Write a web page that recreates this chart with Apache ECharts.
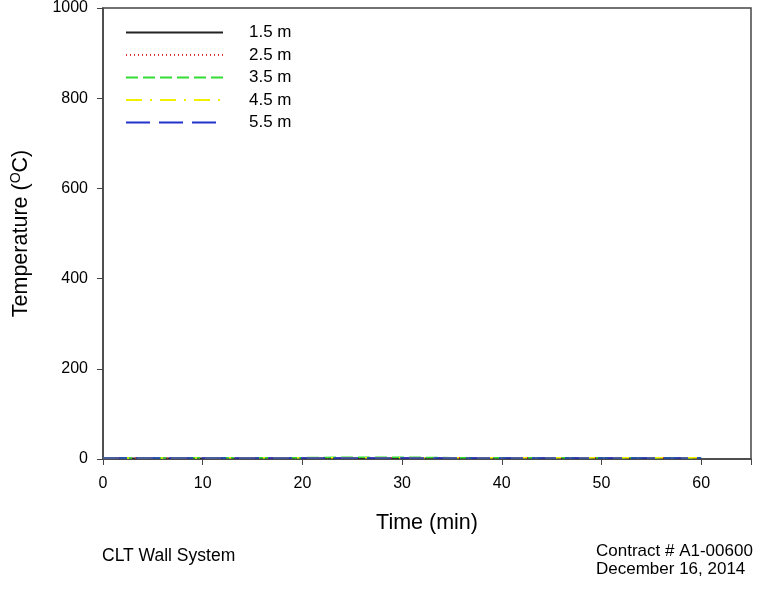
<!DOCTYPE html>
<html>
<head>
<meta charset="utf-8">
<script src="https://cdn.jsdelivr.net/npm/echarts@6/dist/echarts.min.js"></script>
<style>
  html, body { margin: 0; padding: 0; background: #fff; }
  #main { width: 762px; height: 603px; }
</style>
</head>
<body>
<div id="main"></div>
<script>
// time in minutes
var times = [0, 5, 10, 15, 20, 25, 30, 35, 40, 45, 50, 55, 60];
var t15 = [2, 2, 2, 2, 2, 2, 2, 2, 2, 2, 2, 2, 2];
var t25 = [2, 2, 2, 2, 2, 3, 3, 3, 3, 3, 3, 3, 3];
var t35 = [2, 2, 3, 3, 3, 4, 4, 3, 3, 3, 3, 3, 3];
var t45 = [2, 2, 2, 3, 3, 3, 3, 3, 3, 3, 3, 3, 3];
var t55 = [2, 2, 2, 2, 2, 2, 2, 2, 2, 2, 2, 2, 2];
var seriesNames = ['1.5 m', '2.5 m', '3.5 m', '4.5 m', '5.5 m'];

function pairs(vals) {
  var out = [];
  for (var i = 0; i < times.length; i++) out.push([times[i], vals[i]]);
  return out;
}

var myChart = echarts.init(document.getElementById('main'));
var font = 'Liberation Sans, Arial, sans-serif';

var option = {
  animation: false,
  textStyle: { fontFamily: font },
  title: [
    { text: 'CLT Wall System', left: 97, top: 542,
      textStyle: { fontSize: 17.5, fontWeight: 'normal', color: '#000', fontFamily: font } },
    { text: 'Contract # A1-00600\nDecember 16, 2014', left: 591, top: 538,
      textStyle: { fontSize: 17, fontWeight: 'normal', color: '#000', lineHeight: 17.5, fontFamily: font } }
  ],
  legend: {
    orient: 'vertical',
    left: 120,
    top: 19,
    itemWidth: 97,
    itemHeight: 16,
    itemGap: 5.5,
    itemStyle: { opacity: 0 },
    data: seriesNames,
    textStyle: { fontSize: 17, lineHeight: 15, color: '#000', padding: [0, 0, 0, 21], fontFamily: font }
  },
  grid: { left: 103, right: 11, top: 8, bottom: 144, containLabel: false },
  xAxis: {
    type: 'value', min: 0, max: 65, interval: 10,
    name: 'Time (min)', nameLocation: 'middle', nameGap: 53,
    nameTextStyle: { fontSize: 21.5, color: '#000', fontFamily: font },
    axisLine: { lineStyle: { color: '#444', width: 1.5 } },
    axisTick: { show: true, inside: false, length: 6, lineStyle: { color: '#444' } },
    axisLabel: { fontSize: 16, color: '#000', margin: 17, formatter: function (v) { return v > 60 ? '' : v; } },
    splitLine: { show: false }
  },
  yAxis: {
    type: 'value', min: 0, max: 1000, interval: 200,
    name: '{a|Temperature (}{s|O}{a|C)}', nameLocation: 'middle', nameGap: 70, nameRotate: 90,
    nameTextStyle: {
      rich: {
        a: { fontSize: 21.5, color: '#000', fontFamily: font },
        s: { fontSize: 14, color: '#000', fontFamily: font, verticalAlign: 'top', padding: [0, 0, 10, 0] }
      }
    },
    axisLine: { show: true, lineStyle: { color: '#444', width: 1.5 } },
    axisTick: { show: true, inside: false, length: 6, lineStyle: { color: '#444' } },
    axisLabel: { fontSize: 16, color: '#000', margin: 15, formatter: function (v) { return String(v); } },
    splitLine: { show: false }
  },
  graphic: [
    { type: 'rect', shape: { x: 103, y: 8, width: 648, height: 451 }, silent: true, z: 0,
      style: { fill: 'none', stroke: '#444', lineWidth: 1.5 } }
  ],
  series: [
    { name: seriesNames[0], type: 'line', symbol: 'none', data: pairs(t15),
      lineStyle: { color: '#222', width: 1.2, type: 'solid' }, itemStyle: { color: '#222' } },
    { name: seriesNames[1], type: 'line', symbol: 'none', data: pairs(t25),
      lineStyle: { color: '#e03030', width: 1.2, type: [1, 3] }, itemStyle: { color: '#e03030' } },
    { name: seriesNames[2], type: 'line', symbol: 'none', data: pairs(t35),
      lineStyle: { color: '#33dd33', width: 1.5, type: [12, 5] }, itemStyle: { color: '#33dd33' } },
    { name: seriesNames[3], type: 'line', symbol: 'none', data: pairs(t45),
      lineStyle: { color: '#f0f000', width: 1.5, type: [16, 8, 2, 8] }, itemStyle: { color: '#f0f000' } },
    { name: seriesNames[4], type: 'line', symbol: 'none', data: pairs(t55),
      lineStyle: { color: '#2233cc', width: 1.5, type: [24, 9] }, itemStyle: { color: '#2233cc' } }
  ]
};

myChart.setOption(option);
</script>
</body>
</html>
